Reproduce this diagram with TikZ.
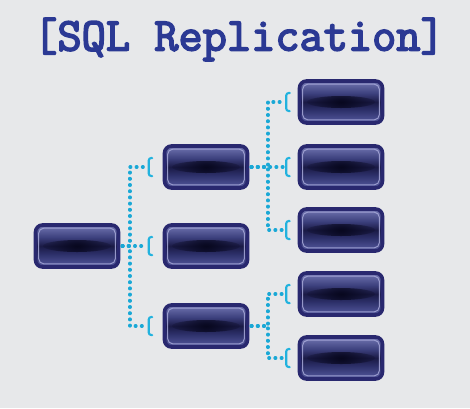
\documentclass[tikz,border=0pt]{standalone}
\usepackage{fontspec}
\newfontfamily\titlefont[FakeBold=3.5]{Latin Modern Mono}
\usetikzlibrary{calc, fadings}

\definecolor{bgcol}{HTML}{E7E8EA}
\definecolor{titleblue}{HTML}{2B3994}
\definecolor{rimcol}{HTML}{29286F}
\definecolor{topcol}{HTML}{7276B2}
\definecolor{uppcol}{HTML}{3B3F7C}
\definecolor{midcol}{HTML}{1A1A45}
\definecolor{lowcol}{HTML}{2C2F68}
\definecolor{botcol}{HTML}{555AA0}
\definecolor{blobcol}{HTML}{08081F}
\definecolor{glosscol}{HTML}{A8AADA}
\definecolor{dotcol}{HTML}{1AA8D6}
\definecolor{brkcol}{HTML}{22B2DE}

\pgfdeclareverticalshading{boxshade}{100bp}{color(0bp)=(botcol); color(25bp)=(botcol); color(41bp)=(lowcol); color(50bp)=(midcol); color(60bp)=(uppcol); color(75bp)=(topcol); color(100bp)=(topcol)}
\tikzfading[name=blob, inner color=transparent!0, outer color=transparent!100]

\tikzset{
  server/.style={draw=rimcol, line width=3.6pt, rounded corners=7pt, minimum width=83pt, minimum height=42pt, inner sep=0pt, shade, shading=boxshade,
    path picture={
      \fill[blobcol, path fading=blob] (path picture bounding box.center) ellipse (34pt and 6pt);
      \draw[glosscol, opacity=0.85, line width=1pt, rounded corners=5pt] ([shift={(3.2pt,-3.2pt)}]path picture bounding box.north west) rectangle ([shift={(-3.2pt,3.2pt)}]path picture bounding box.south east);
    }},
  link/.style={dotcol, line width=3.4pt, line cap=round, dash pattern=on 0.6pt off 5.6pt},
  brkline/.style={brkcol, line width=2.1pt, rounded corners=2.5pt, line cap=round},
}
% opening bracket in front of a box
\newcommand{\brk}[1]{\draw[brkline] ([shift={(3.5pt,9pt)}]#1) -- ([shift={(0pt,9pt)}]#1) -- ([shift={(0pt,-9pt)}]#1) -- ([shift={(3.5pt,-9pt)}]#1);}

\begin{document}
\begin{tikzpicture}[x=1pt, y=-1pt]
	\fill[bgcol] (0,0) rectangle (470,408);
	\node (title) [anchor=base, text=titleblue, font=\fontsize{47}{47}\selectfont\titlefont] at (239,50.5) {[SQL Replication]};

	\node (root) [server] at (77,246) {};
	\node (mid1) [server] at (206,167) {};
	\node (mid2) [server] at (206,246) {};
	\node (mid3) [server] at (206,326) {};
	\node (leaf1) [server] at (341,102) {};
	\node (leaf2) [server] at (341,167) {};
	\node (leaf3) [server] at (341,230) {};
	\node (leaf4) [server] at (341,294) {};
	\node (leaf5) [server] at (341,358) {};

	\foreach \n in {mid1,mid2,mid3} {
		\coordinate (b\n) at ([xshift=-14pt]\n.west);
		\draw [link] ([xshift=2pt]root.east) -- ++(7.5,0) |- ([xshift=-17pt]\n.west);
		\brk{b\n}
	}
	\foreach \n in {leaf1,leaf2,leaf3} {
		\coordinate (b\n) at ([xshift=-11.5pt]\n.west);
		\draw [link] ([xshift=2pt]mid1.east) -- ++(16.5,0) |- ([xshift=-14pt]\n.west);
		\brk{b\n}
	}
	\foreach \n in {leaf4,leaf5} {
		\coordinate (b\n) at ([xshift=-11.5pt]\n.west);
		\draw [link] ([xshift=2pt]mid3.east) -- ++(16.5,0) |- ([xshift=-14pt]\n.west);
		\brk{b\n}
	}
\end{tikzpicture}
\end{document}
